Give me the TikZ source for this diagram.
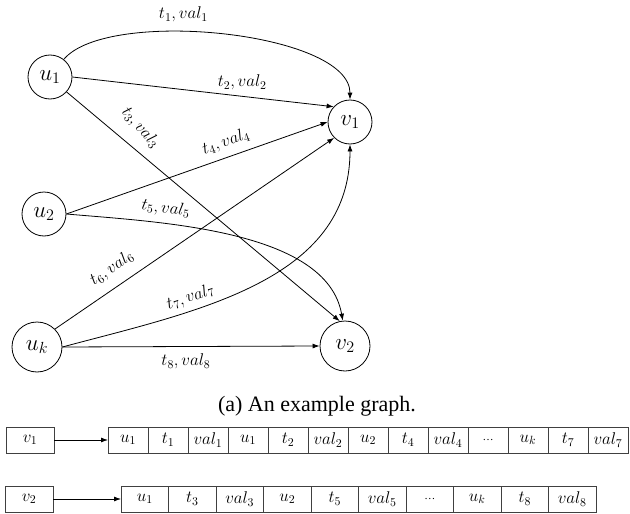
\documentclass[tikz,border=0pt]{standalone}
\usepackage{fix-cm}
\usepackage{fontspec}
\setmainfont{Liberation Serif}
\usepackage{tikz}
\usetikzlibrary{arrows.meta, positioning}

\begin{document}
\begin{tikzpicture}[
    x=1pt, y=1pt,
    every node/.style={inner sep=0pt},
    vertex/.style={circle, draw, line width=0.8pt, minimum size=44pt, font=\fontsize{23}{25}\selectfont},
    bigvertex/.style={vertex, minimum size=50pt},
    elabel/.style={font=\fontsize{17}{19}\selectfont},
    headbox/.style={rectangle, draw=black!75, line width=0.8pt, minimum width=48pt, minimum height=26pt, outer sep=0pt, font=\fontsize{17}{19}\selectfont},
    cell/.style={rectangle, draw=black!75, line width=0.8pt, minimum height=26pt, outer sep=0pt, font=\fontsize{17}{19}\selectfont},
    arrow/.style={-{Latex[length=7pt,width=5pt]}, line width=0.8pt}
]
\useasboundingbox (0,0) rectangle (630,-514);

% Vertices of the graph
\node (u1) [vertex] at (50,-77) {$u_1$};
\node (u2) [vertex] at (44,-214) {$u_2$};
\node (uk) [bigvertex] at (37,-347) {$u_k$};
\node (v1) [vertex] at (350,-122) {$v_1$};
\node (v2) [bigvertex] at (345,-346) {$v_2$};

% Edges with time stamps and values
\draw [arrow] (u1.52) to[out=50, in=90, looseness=0.6]
    node[elabel, pos=0.4, above=9pt] {$t_1, val_1$} (v1.north);
\draw [arrow] (u1.east) -- (v1.137)
    node[elabel, pos=0.65, above=6pt] {$t_2, val_2$};
\draw [arrow] (u1.-42) -- (v2.102)
    node[elabel, pos=0.22, sloped, rotate=-9, above=12pt] {$t_3, val_3$};
\draw [arrow] (u2.east) -- (v1.west)
    node[elabel, pos=0.63, sloped, above=7pt] {$t_4, val_4$};
\draw [arrow] (u2.east) to[out=-5, in=100, looseness=0.8]
    node[elabel, pos=0.3, sloped, above=7pt] {$t_5, val_5$} (v2.95);
\draw [arrow] (uk.45) -- (v1.225)
    node[elabel, pos=0.24, sloped, above=10pt] {$t_6, val_6$};
\draw [arrow] (uk.east) to[out=15, in=-90]
    node[elabel, pos=0.33, sloped, above=5pt] {$t_7, val_7$} (v1.south);
\draw [arrow] (uk.east) -- (v2.west)
    node[elabel, pos=0.48, below=7pt] {$t_8, val_8$};

% Caption
\node (caption) at (317,-406) {\fontsize{22}{26}\selectfont (a) An example graph.};

% Adjacency list of v1
\node (v1box) [headbox] at (30,-440) {$v_1$};
\coordinate (r1c0) at (108,-440);
\foreach \entry [count=\i, remember=\i as \j (initially 0)] in
    {u_1, t_1, val_1, u_1, t_2, val_2, u_2, t_4, val_4, \mbox{\fontsize{11}{11}\selectfont …}, u_k, t_7, val_7}
    \node (r1c\i) [cell, minimum width=40pt, right=0pt of r1c\j] {$\entry$};
\draw [arrow] (v1box.east) -- (r1c1.west);

% Adjacency list of v2
\node (v2box) [headbox] at (29,-499) {$v_2$};
\coordinate (r2c0) at (121,-499);
\foreach \entry [count=\i, remember=\i as \j (initially 0)] in
    {u_1, t_3, val_3, u_2, t_5, val_5, \mbox{\fontsize{11}{11}\selectfont …}, u_k, t_8, val_8}
    \node (r2c\i) [cell, minimum width=47.5pt, right=0pt of r2c\j] {$\entry$};
\draw [arrow] (v2box.east) -- (r2c1.west);

\end{tikzpicture}
\end{document}
